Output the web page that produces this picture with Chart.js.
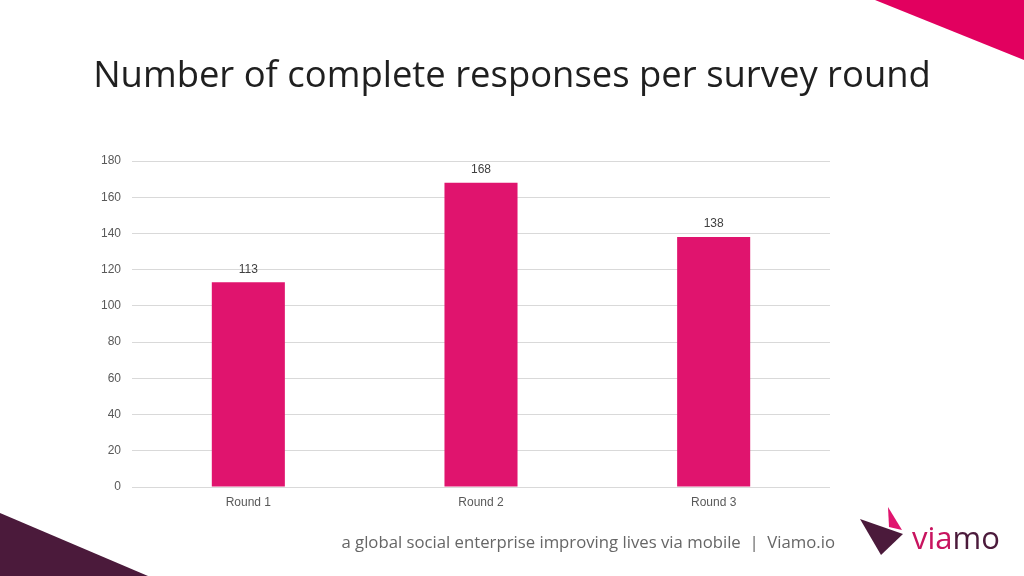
<!DOCTYPE html>
<html>
<head>
<meta charset="utf-8">
<script src="https://cdn.jsdelivr.net/npm/chart.js@4.4.0/dist/chart.umd.min.js"></script>
<style>
  html, body { margin: 0; padding: 0; background: #ffffff; }
  #chart { display: block; }
</style>
</head>
<body>
<canvas id="chart" width="1024" height="576"></canvas>
<script>
const rounds = ["Round 1", "Round 2", "Round 3"];
const responses = [113, 168, 138];
const yTicks = [0, 20, 40, 60, 80, 100, 120, 140, 160, 180];

const titleText = "Number of complete responses per survey round";
const footerText = "a global social enterprise improving lives via mobile  |  Viamo.io";

const pink = "#e0146e";
const plum = "#4b1a3b";

// draw text so it fills a given width (font scaled to fit)
function fitText(c, text, family, weight, width) {
  c.font = weight + " 20px " + family;
  const size = 20 * width / c.measureText(text).width;
  c.font = weight + " " + size.toFixed(2) + "px " + family;
  return size;
}

// slide decorations: title, corner triangles, footer line, logo
const slideDecor = {
  id: "slideDecor",
  beforeDraw(chart) {
    const c = chart.ctx;
    c.save();
    c.fillStyle = "#e2005f";
    c.beginPath();
    c.moveTo(875, 0);
    c.lineTo(1024, 0);
    c.lineTo(1024, 60);
    c.closePath();
    c.fill();

    c.fillStyle = plum;
    c.beginPath();
    c.moveTo(0, 513);
    c.lineTo(148, 576);
    c.lineTo(0, 576);
    c.closePath();
    c.fill();

    // title
    c.fillStyle = "#1f1f1f";
    c.textAlign = "center";
    c.textBaseline = "middle";
    fitText(c, titleText, "'Open Sans'", "normal", 838);
    c.fillText(titleText, 512, 77);

    // footer
    c.fillStyle = "#666666";
    c.textAlign = "right";
    fitText(c, footerText, "'Open Sans'", "normal", 494);
    c.fillText(footerText, 835, 543);

    // logo marks
    c.fillStyle = plum;
    c.beginPath();
    c.moveTo(860, 519);
    c.lineTo(903, 534);
    c.lineTo(881, 555);
    c.closePath();
    c.fill();
    c.fillStyle = pink;
    c.beginPath();
    c.moveTo(888, 507);
    c.lineTo(902, 530);
    c.lineTo(889, 527);
    c.closePath();
    c.fill();

    c.textAlign = "left";
    c.textBaseline = "alphabetic";
    fitText(c, "viamo", "'Open Sans'", "normal", 88);
    c.fillStyle = "#c8145f";
    c.fillText("via", 912, 549);
    const w = c.measureText("via").width;
    c.fillStyle = plum;
    c.fillText("mo", 912 + w, 549);
    c.restore();
  }
};

// value labels above the bars
const barValues = {
  id: "barValues",
  afterDatasetsDraw(chart) {
    const c = chart.ctx;
    const meta = chart.getDatasetMeta(0);
    c.save();
    c.font = "12px 'Liberation Sans'";
    c.fillStyle = "#404040";
    c.textAlign = "center";
    c.textBaseline = "middle";
    meta.data.forEach((bar, i) => {
      c.fillText(String(responses[i]), bar.x, bar.y - 13);
    });
    c.restore();
  }
};

new Chart(document.getElementById("chart"), {
  type: "bar",
  data: {
    labels: rounds,
    datasets: [{
      data: responses,
      backgroundColor: pink,
      barPercentage: 0.314,
      categoryPercentage: 1
    }]
  },
  options: {
    responsive: false,
    animation: false,
    layout: { padding: { top: 161, left: 0, right: 194, bottom: 59 } },
    plugins: {
      legend: { display: false },
      tooltip: { enabled: false },
      title: { display: false }
    },
    scales: {
      x: {
        grid: { display: false },
        border: { display: false },
        ticks: { color: "#595959", font: { family: "'Liberation Sans'", size: 12 }, padding: 0 },
        afterFit(scale) { scale.height = 30; }
      },
      y: {
        min: 0,
        max: 180,
        afterBuildTicks(scale) { scale.ticks = yTicks.map(v => ({ value: v })); },
        grid: { color: "#d9d9d9", drawTicks: false },
        border: { display: false },
        ticks: { color: "#595959", font: { family: "'Liberation Sans'", size: 12 }, padding: 11 },
        afterFit(scale) { scale.width = 132; }
      }
    }
  },
  plugins: [slideDecor, barValues]
});
</script>
</body>
</html>
